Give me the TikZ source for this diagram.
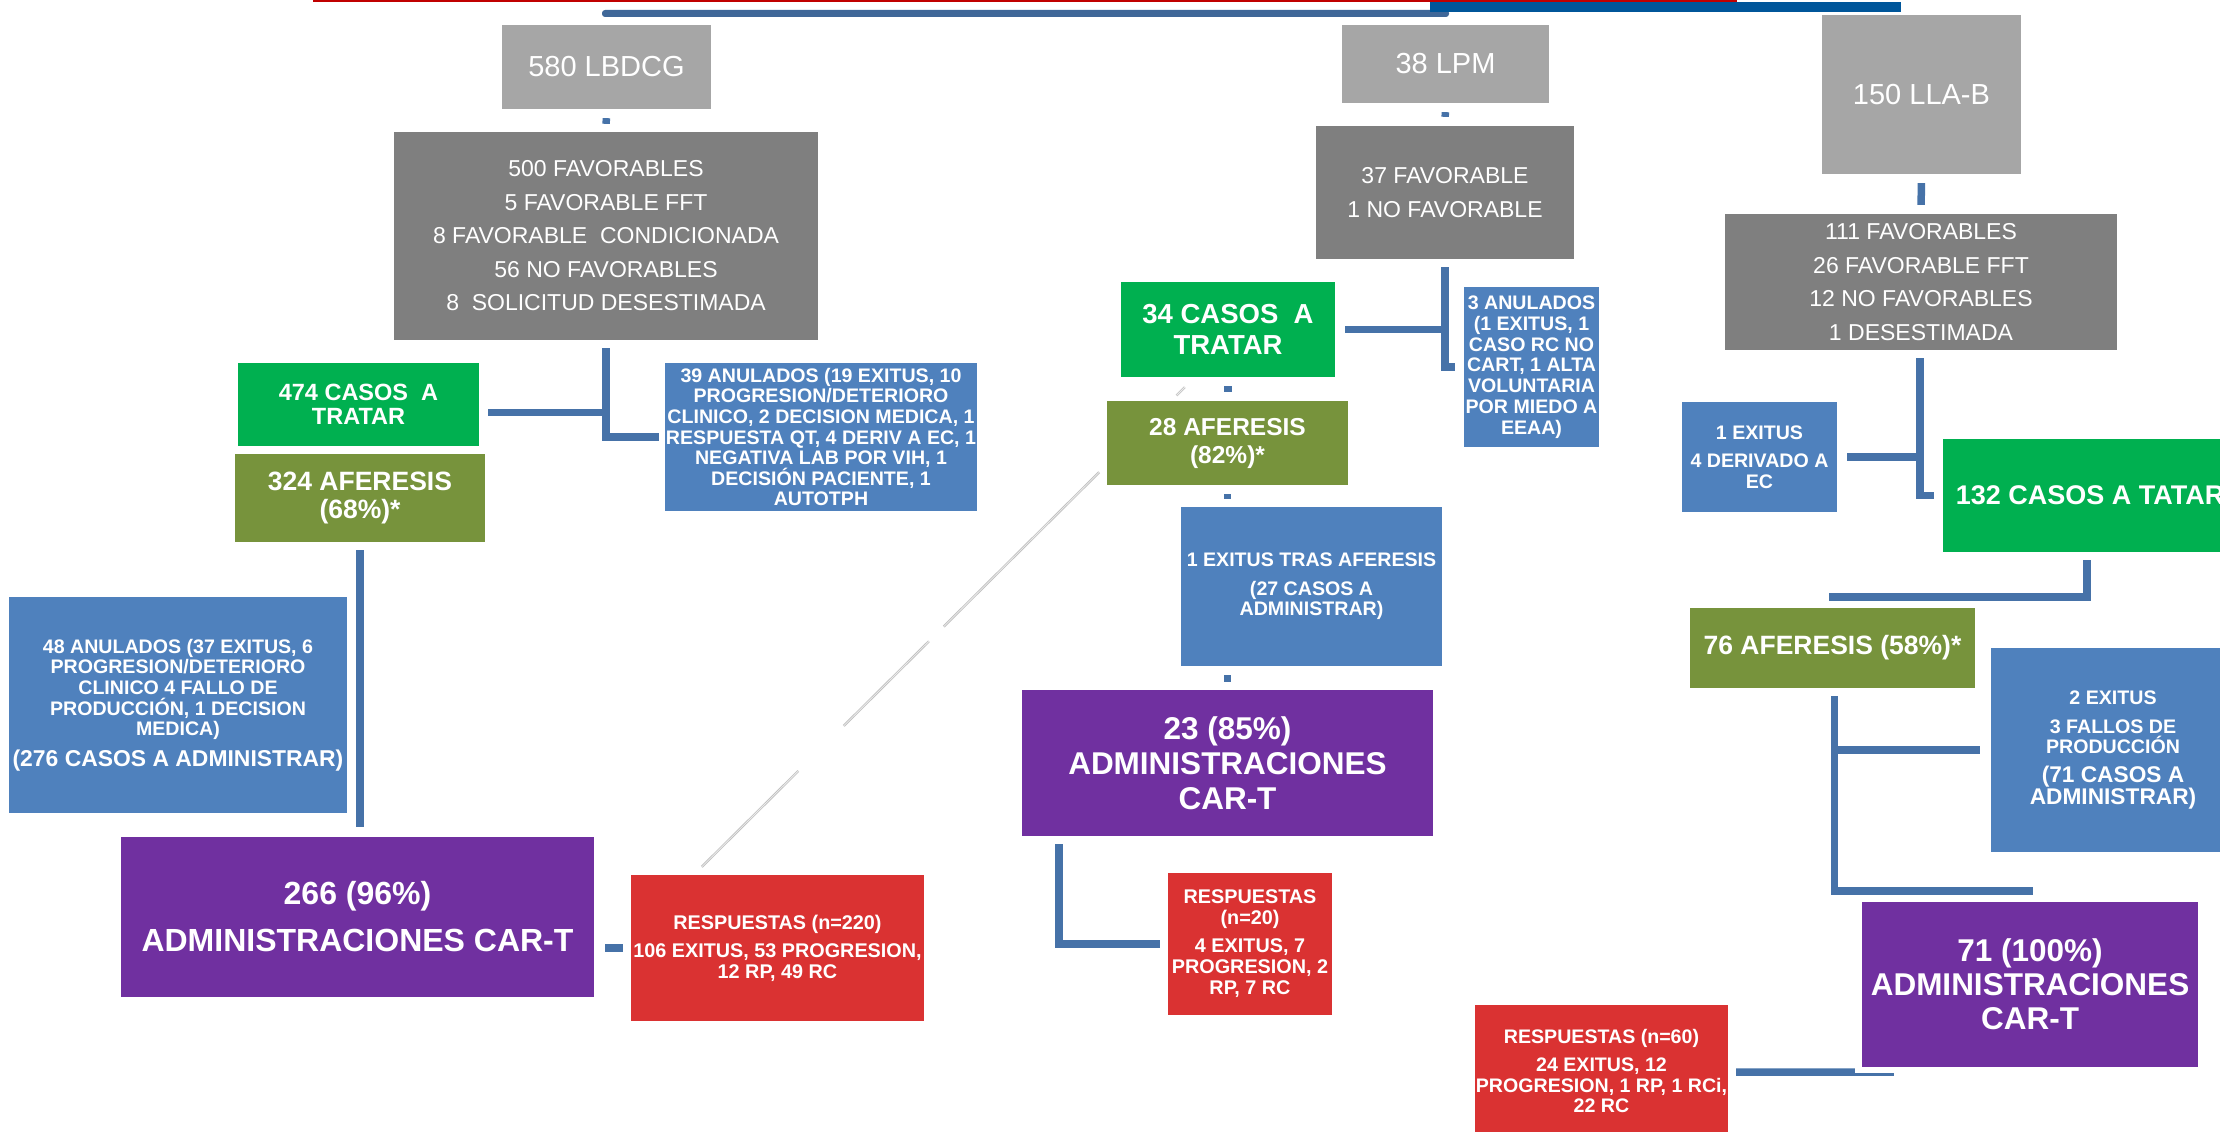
\documentclass[tikz,border=0pt]{standalone}
\usepackage{fontspec}
\setmainfont{Liberation Sans}
\usetikzlibrary{calc}

\definecolor{cGrisClaro}{HTML}{A6A6A6}
\definecolor{cGrisOscuro}{HTML}{7F7F7F}
\definecolor{cVerde}{HTML}{00B050}
\definecolor{cOliva}{HTML}{77933C}
\definecolor{cAzul}{HTML}{4F81BD}
\definecolor{cMorado}{HTML}{7030A0}
\definecolor{cRojo}{HTML}{DA3232}
\definecolor{cLinea}{HTML}{4672A8}
\definecolor{cTopRojo}{HTML}{C00000}
\definecolor{cTopAzul}{HTML}{3F6798}
\definecolor{cTopMarino}{HTML}{00569A}

\begin{document}
\begin{tikzpicture}[x=1pt,y=-1pt,
    box/.style={rectangle,inner sep=0pt,align=center,text=white},
    claro/.style={box,fill=cGrisClaro,font=\fontsize{29}{33}\selectfont},
    oscuro/.style={box,fill=cGrisOscuro,font=\fontsize{23}{33.5}\selectfont},
    casos/.style={box,fill=cVerde,font=\fontsize{23.5}{23.5}\selectfont\bfseries},
    afer/.style={box,fill=cOliva,font=\fontsize{26.5}{28}\selectfont\bfseries},
    anul/.style={box,fill=cAzul,font=\fontsize{19.6}{20.6}\selectfont\bfseries},
    adm/.style={box,fill=cMorado,font=\fontsize{31.5}{35}\selectfont\bfseries},
    resp/.style={box,fill=cRojo,font=\fontsize{19.8}{21}\selectfont\bfseries},
    conn/.style={draw=cLinea,line width=7.5pt},
    diag/.style={draw=black!25,double=black!8,double distance=0.8pt,line width=0.8pt}]

    \useasboundingbox (0,0) rectangle (2220,1132);
    \fill[white] (0,0) rectangle (2220,1132);
    \clip (0,0) rectangle (2220,1132);

    \fill[cTopRojo] (313,0) rectangle (1737,2.5);
    \fill[cTopAzul,rounded corners=3pt] (602,10) rectangle (1449,17);
    \fill[cTopMarino] (1430,2) rectangle (1901,12);

    \node[claro,minimum width=209pt,minimum height=84pt] (lbdcg) at (606.5,67) {580 LBDCG};
    \node[oscuro,minimum width=424pt,minimum height=208pt] (fav1) at (606,236)
    {500 FAVORABLES\\5 FAVORABLE FFT\\8 FAVORABLE\ \ CONDICIONADA\\56 NO FAVORABLES\\8\ \ SOLICITUD DESESTIMADA};
    \node[casos,minimum width=241pt,minimum height=83pt] (casos1) at (358.5,404.5)
    {474 CASOS\ \ A\\TRATAR};
    \node[anul,minimum width=312pt,minimum height=148pt] (anul1) at (821,437)
    {39 ANULADOS (19 EXITUS, 10\\PROGRESION/DETERIORO\\CLINICO, 2 DECISION MEDICA, 1\\RESPUESTA QT, 4 DERIV A EC, 1\\NEGATIVA LAB POR VIH, 1\\DECISIÓN PACIENTE, 1\\AUTOTPH};
    \node[afer,minimum width=250pt,minimum height=88pt] (afer1) at (360,498)
    {324 AFERESIS\\(68\%)*};
    \node[anul,minimum width=338pt,minimum height=216pt] (anul1b) at (178,705)
    {48 ANULADOS (37 EXITUS, 6\\PROGRESION/DETERIORO\\CLINICO 4 FALLO DE\\PRODUCCIÓN, 1 DECISION\\MEDICA)\\[9pt]{\fontsize{22.9}{24}\selectfont (276 CASOS A ADMINISTRAR)}};
    \node[adm,font=\fontsize{32}{36}\selectfont\bfseries,minimum width=473pt,minimum height=160pt] (adm1) at (357.5,917)
    {266 (96\%)\\[11pt]ADMINISTRACIONES CAR-T};
    \node[resp,minimum width=293pt,minimum height=146pt] (resp1) at (777.5,948)
    {RESPUESTAS (n=220)\\[7pt]106 EXITUS, 53 PROGRESION,\\12 RP, 49 RC};

    \node[claro,minimum width=207pt,minimum height=78pt] (lpm) at (1445.5,64) {38 LPM};
    \node[oscuro,font=\fontsize{23}{34}\selectfont,minimum width=258pt,minimum height=133pt] (fav2) at (1445,192.5)
    {37 FAVORABLE\\1 NO FAVORABLE};
    \node[casos,font=\fontsize{27.5}{31}\selectfont\bfseries,minimum width=214pt,minimum height=95pt] (casos2) at (1228,329.5)
    {34 CASOS\ \ A\\TRATAR};
    \node[anul,font=\fontsize{19.6}{20.8}\selectfont\bfseries,minimum width=135pt,minimum height=160pt] (anul2) at (1531.5,367)
    {3 ANULADOS\\(1 EXITUS, 1\\CASO RC NO\\CART, 1 ALTA\\VOLUNTARIA\\POR MIEDO A\\EEAA)};
    \node[afer,font=\fontsize{24.5}{28}\selectfont\bfseries,minimum width=241pt,minimum height=84pt] (afer2) at (1227.5,443)
    {28 AFERESIS\\(82\%)*};
    \node[anul,minimum width=261pt,minimum height=159pt] (exit2) at (1311.5,586.5)
    {1 EXITUS TRAS AFERESIS\\[8pt](27 CASOS A\\ADMINISTRAR)};
    \node[adm,minimum width=411pt,minimum height=146pt] (adm2) at (1227.5,763)
    {23 (85\%)\\ADMINISTRACIONES\\CAR-T};
    \node[resp,minimum width=164pt,minimum height=142pt] (resp2) at (1250,944)
    {RESPUESTAS\\(n=20)\\[7pt]4 EXITUS, 7\\PROGRESION, 2\\RP, 7 RC};

    \node[claro,minimum width=199pt,minimum height=159pt] (llab) at (1921.5,94.5) {150 LLA-B};
    \node[oscuro,minimum width=392pt,minimum height=136pt] (fav3) at (1921,282)
    {111 FAVORABLES\\26 FAVORABLE FFT\\12 NO FAVORABLES\\1 DESESTIMADA};
    \node[anul,minimum width=155pt,minimum height=110pt] (exit3) at (1759.5,457)
    {1 EXITUS\\[8pt]4 DERIVADO A\\EC};
    \node[casos,font=\fontsize{27}{30}\selectfont\bfseries,minimum width=294pt,minimum height=113pt] (casos3) at (2090,495.5)
    {132 CASOS A TATAR};
    \node[afer,minimum width=285pt,minimum height=80pt] (afer3) at (1832.5,648)
    {76 AFERESIS (58\%)*};
    \node[anul,minimum width=244pt,minimum height=204pt] (fallo3) at (2113,750)
    {2 EXITUS\\[8pt]3 FALLOS DE\\PRODUCCIÓN\\[8pt]{\fontsize{22.7}{24}\selectfont (71 CASOS A}\\{\fontsize{22.7}{24}\selectfont ADMINISTRAR)}};
    \node[adm,font=\fontsize{31.5}{34}\selectfont\bfseries,minimum width=336pt,minimum height=165pt] (adm3) at (2030,984.5)
    {71 (100\%)\\ADMINISTRACIONES\\CAR-T};
    \node[resp,font=\fontsize{19.6}{20.5}\selectfont\bfseries,minimum width=253pt,minimum height=132pt] (resp3) at (1601.5,1071)
    {RESPUESTAS (n=60)\\[8pt]24 EXITUS, 12\\PROGRESION, 1 RP, 1 RCi,\\22 RC};

    \draw[conn,shorten <=9pt,shorten >=8pt] (lbdcg.south) -- (fav1.north);
    \draw[conn] ($(fav1.south)+(0,8)$) |- ($(anul1.west)+(-6,0)$);
    \draw[conn] ($(casos1.east)+(9,8)$) -| ($(fav1.south)+(0,8)$);
    \draw[conn,shorten <=8pt,shorten >=10pt] (afer1.south) -- (afer1.south |- adm1.north);
    \draw[conn,shorten <=11pt,shorten >=8pt] (adm1.east |- resp1.west) -- (resp1.west);
    \coordinate (diagA) at ($(resp1.north west)+(71,-8)$);
    \coordinate (diagB) at ($(casos2.south west)+(64,10)$);
    \draw[diag,dash pattern=on 136pt off 64pt on 120pt off 21pt on 219pt off 109pt on 14pt] (diagA) -- (diagB);

    \draw[conn,shorten <=9pt,shorten >=9pt] (lpm.south) -- (fav2.north);
    \draw[conn] ($(fav2.south)+(0,8)$) |- ($(anul2.west)+(-9,0)$);
    \draw[conn] ($(casos2.east)+(10,0)$) -| ($(fav2.south)+(0,8)$);
    \draw[conn,shorten <=9pt,shorten >=9pt] (casos2.south) -- (casos2.south |- afer2.north);
    \draw[conn,shorten <=9pt,shorten >=8pt] (afer2.south) -- (afer2.south |- exit2.north);
    \draw[conn,shorten <=9pt,shorten >=8pt] (adm2.north |- exit2.south) -- (adm2.north);
    \draw[conn] ($(adm2.south west)+(37,8)$) |- ($(resp2.west)+(-8,0)$);

    \draw[conn,shorten <=9pt,shorten >=9pt] (llab.south) -- (fav3.north);
    \draw[conn] ($(fav3.south)+(-1,8)$) |- ($(casos3.west)+(-9,0)$);
    \draw[conn] ($(exit3.east)+(10,0)$) -| ($(fav3.south)+(-1,8)$);
    \draw[conn] ($(casos3.south)+(-3,8)$) |- ($(afer3.north)+(-4,-11)$);
    \draw[conn] ($(afer3.south)+(2,8)$) |- ($(fallo3.west)+(-11,0)$);
    \draw[conn] ($(afer3.south)+(2,8)$) |- ($(adm3.north)+(3,-11)$);
    \draw[conn] ($(resp3.east)+(8,1)$) -- ($(adm3.south west)+(-7,5)$);
    \draw[conn,line width=3pt] ($(adm3.south west)+(-7,7)$) -- ($(adm3.south west)+(32,7)$);
\end{tikzpicture}
\end{document}
